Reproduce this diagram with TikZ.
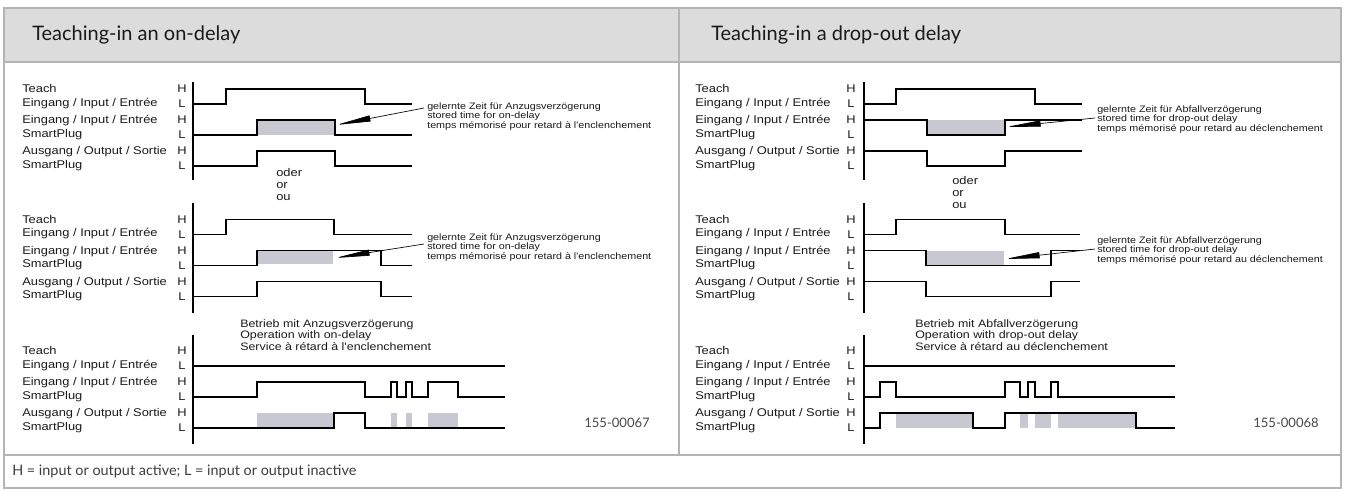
\documentclass[tikz,border=0pt]{standalone}
\usepackage{fontspec}
\setmainfont{Lato}
\newfontfamily\diafont[FakeStretch=1.15]{Liberation Sans}
\usetikzlibrary{arrows.meta, calc}
\definecolor{frame}{HTML}{B4B4B4}
\definecolor{headfill}{HTML}{DCDCDC}
\definecolor{ink}{HTML}{1A1A1A}
\definecolor{memo}{HTML}{C8C8D2}
\tikzset{
  every node/.style = {inner sep=0pt, text=ink},
  tdhead/.style  = {font=\fontsize{15pt}{17pt}\selectfont, anchor=west},
  tdfoot/.style  = {font=\fontsize{10.8pt}{12pt}\selectfont, anchor=west, text=ink!85},
  tdlbl/.style   = {font=\diafont\fontsize{8.4pt}{10.1pt}\selectfont, anchor=west, align=left},
  tdlev/.style   = {font=\diafont\fontsize{8.4pt}{10.1pt}\selectfont},
  tdalt/.style   = {font=\diafont\fontsize{8.4pt}{9pt}\selectfont, anchor=west, align=left},
  tdnote/.style  = {font=\diafont\fontsize{7pt}{6.6pt}\selectfont, anchor=west, align=left},
  tdop/.style    = {font=\diafont\fontsize{8.1pt}{7.5pt}\selectfont, anchor=west, align=left},
  tdnum/.style   = {font=\fontsize{9.8pt}{11pt}\selectfont, anchor=west, text=ink!80},
  tdframe/.style = {draw=frame, line width=0.8pt},
  tdaxis/.style  = {draw=black, line width=0.8pt},
  tdsig/.style   = {draw=black, line width=1pt},
  tdmem/.style   = {fill=memo, draw=none},
  tdptr/.style   = {-{Triangle[length=26pt,width=4.5pt]}, draw=black, line width=0.5pt},
}
% label column and H/L letters of one timing group
\newcommand{\tdrows}[4]{%
  \node[tdlbl] (#1a) at (#2,#4+7.5)  {Teach\\Eingang / Input / Entrée};
  \node[tdlbl] (#1b) at (#2,#4+38.5) {Eingang / Input / Entrée\\SmartPlug};
  \node[tdlbl] (#1c) at (#2,#4+69.5) {Ausgang / Output / Sortie\\SmartPlug};
  \node[tdlev] (#1aH) at (#3,#4)    {H};
  \node[tdlev] (#1aL) at (#3,#4+15) {L};
  \node[tdlev] (#1bH) at (#3,#4+31) {H};
  \node[tdlev] (#1bL) at (#3,#4+46) {L};
  \node[tdlev] (#1cH) at (#3,#4+62) {H};
  \node[tdlev] (#1cL) at (#3,#4+77) {L};
}
\begin{document}
\begin{tikzpicture}[x=0.75pt, y=-0.75pt]
\useasboundingbox (0,0) rectangle (1346,490);

% frame
\fill[headfill] (4,8) rectangle (1341,62);
\draw[tdframe] (4,8) rectangle (1341,488);
\draw[tdframe] (4,62) -- (1341,62);
\draw[tdframe] (4,455) -- (1341,455);
\draw[tdframe] (679,8) -- (679,455);

\node[tdhead] (hon)  at (32,35)  {Teaching-in an on-delay};
\node[tdhead] (hoff) at (711,35) {Teaching-in a drop-out delay};
\node[tdfoot] (foot) at (12,471) {H = input or output active; L = input or output inactive};

% ---- on-delay
\tdrows{l1}{22}{182}{89}
\tdrows{l2}{22}{182}{219.5}
\tdrows{l3}{22}{182}{351}
\draw[tdaxis] (193,82) -- (193,180);
\draw[tdaxis] (193,203) -- (193,313);
\draw[tdaxis] (193,335) -- (193,444);

\fill[tdmem] (257,120) rectangle (335,135);
\draw[tdsig] (193,104) -| (226,89) -| (365,104) -- (412,104);
\draw[tdsig] (193,135) -| (257,120) -| (335,135) -- (412,135);
\draw[tdsig] (193,166) -| (257,151) -| (335,166) -- (412,166);
\node[tdnote] (memA) at (427,117)
  {gelernte Zeit für Anzugsverzögerung\\stored time for on-delay\\temps mémorisé pour retard à l'enclenchement};
\coordinate (tipA) at (336,125);
\draw[tdptr] ($(memA.west)+(-3,-9)$) -- (tipA);
\node[tdalt] (altA) at (276,184) {oder\\or\\ou};

\fill[tdmem] (257,250.5) rectangle (333,264);
\draw[tdsig] (193,234.5) -| (226,219.5) -| (334,234.5) -- (412,234.5);
\draw[tdsig] (193,265.5) -| (257,250.5) -| (381,265.5) -- (412,265.5);
\draw[tdsig] (193,296.5) -| (257,281.5) -| (381,296.5) -- (412,296.5);
\node[tdnote] (memB) at (427,248)
  {gelernte Zeit für Anzugsverzögerung\\stored time for on-delay\\temps mémorisé pour retard à l'enclenchement};
\coordinate (tipB) at (335,258);
\draw[tdptr] ($(memB.west)+(-3,-4)$) -- (tipB);

\node[tdop] (opA) at (240,335)
  {Betrieb mit Anzugsverzögerung\\Operation with on-delay\\Service à rétard à l'enclenchement};
\fill[tdmem] (257,413) rectangle (334,428);
\fill[tdmem] (391,413) rectangle (397,428);
\fill[tdmem] (406,413) rectangle (412,428);
\fill[tdmem] (428,413) rectangle (458,428);
\draw[tdsig] (193,366) -- (505,366);
\draw[tdsig] (193,397) -| (257,382) -| (365,397) -| (391,382) -| (397,397) -| (406,382)
  -| (412,397) -| (428,382) -| (458,397) -- (505,397);
\draw[tdsig] (193,428) -| (334,413) -| (365,428) -- (505,428);
\node[tdnum] (numA) at (584,423) {155-00067};

% ---- drop-out delay
\tdrows{r1}{695}{851}{89}
\tdrows{r2}{695}{851}{219.5}
\tdrows{r3}{695}{851}{351}
\draw[tdaxis] (864,82) -- (864,180);
\draw[tdaxis] (864,203) -- (864,313);
\draw[tdaxis] (864,335) -- (864,444);

\fill[tdmem] (927,120) rectangle (1005,135);
\draw[tdsig] (864,104) -| (896,89) -| (1035,104) -- (1082,104);
\draw[tdsig] (864,120) -| (927,135) -| (1005,120) -- (1082,120);
\draw[tdsig] (864,151) -| (927,166) -| (1005,151) -- (1082,151);
\node[tdnote] (memC) at (1097,120)
  {gelernte Zeit für Abfallverzögerung\\stored time for drop-out delay\\temps mémorisé pour retard au déclenchement};
\coordinate (tipC) at (1006,127);
\draw[tdptr] ($(memC.west)+(-2,-2)$) -- (tipC);
\node[tdalt] (altB) at (952,192) {oder\\or\\ou};

\fill[tdmem] (927,251) rectangle (1004,265.5);
\draw[tdsig] (864,234.5) -| (896,219.5) -| (1005,234.5) -- (1080,234.5);
\draw[tdsig] (864,250.5) -| (926,265.5) -| (1051,250.5) -- (1080,250.5);
\draw[tdsig] (864,281.5) -| (926,296.5) -| (1051,281.5) -- (1080,281.5);
\node[tdnote] (memD) at (1097,251)
  {gelernte Zeit für Abfallverzögerung\\stored time for drop-out delay\\temps mémorisé pour retard au déclenchement};
\coordinate (tipD) at (1005,259);
\draw[tdptr] ($(memD.west)+(-2,-2)$) -- (tipD);

\node[tdop] (opB) at (915,335)
  {Betrieb mit Abfallverzögerung\\Operation with drop-out delay\\Service à rétard au déclenchement};
\fill[tdmem] (896,413) rectangle (973,428);
\fill[tdmem] (1020,413) rectangle (1028,428);
\fill[tdmem] (1035,413) rectangle (1051,428);
\fill[tdmem] (1058,413) rectangle (1136,428);
\draw[tdsig] (864,366) -- (1175,366);
\draw[tdsig] (864,397) -| (880,382) -| (896,397) -| (1005,382) -| (1020,397) -| (1028,382)
  -| (1035,397) -| (1051,382) -| (1058,397) -- (1175,397);
\draw[tdsig] (864,428) -| (880,413) -| (973,428) -| (1005,413) -| (1136,428) -- (1175,428);
\node[tdnum] (numB) at (1253,423) {155-00068};
\end{tikzpicture}
\end{document}
